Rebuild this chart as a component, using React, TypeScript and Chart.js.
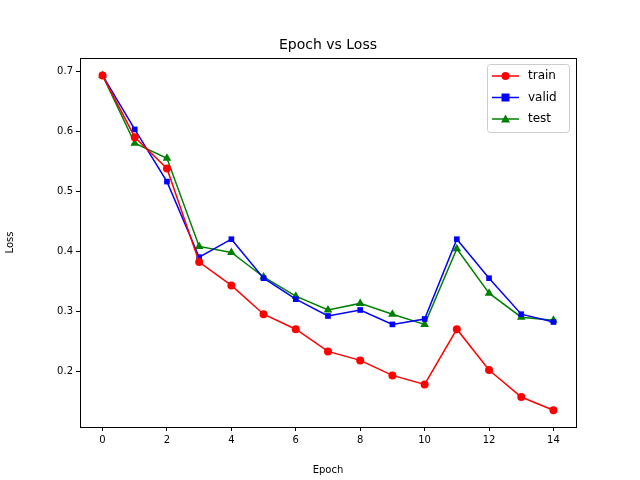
import React, { useEffect, useRef } from "react";
import Chart from "chart.js/auto";

const epochs = [0, 1, 2, 3, 4, 5, 6, 7, 8, 9, 10, 11, 12, 13, 14];
const trainLoss = [0.693, 0.59, 0.538, 0.382, 0.343, 0.295, 0.27, 0.233, 0.218, 0.193, 0.178, 0.27, 0.202, 0.157, 0.135];
const validLoss = [0.693, 0.603, 0.516, 0.39, 0.42, 0.355, 0.32, 0.292, 0.302, 0.278, 0.287, 0.42, 0.355, 0.295, 0.282];
const testLoss = [0.693, 0.58, 0.555, 0.408, 0.398, 0.357, 0.325, 0.302, 0.313, 0.295, 0.278, 0.404, 0.33, 0.29, 0.285];
const xTicks = [0, 2, 4, 6, 8, 10, 12, 14];
const yTicks = [0.2, 0.3, 0.4, 0.5, 0.6, 0.7];

const FONT = "DejaVu Sans";

const series = [
  { label: "train", data: trainLoss, color: "#ff0000", style: "circle" },
  { label: "valid", data: validLoss, color: "#0000ff", style: "rect" },
  { label: "test", data: testLoss, color: "#008000", style: "triangle" },
];

const App: React.FC = () => {
  const canvasRef = useRef<HTMLCanvasElement>(null);

  useEffect(() => {
    if (!canvasRef.current) return;

    // 테두리, 제목, 범례를 직접 그리는 플러그인
    const decor = {
      id: "decor",
      afterDraw(chart: any) {
        const { ctx, chartArea: a } = chart;
        ctx.save();
        ctx.strokeStyle = "#000";
        ctx.lineWidth = 1;
        ctx.strokeRect(a.left + 0.5, a.top + 0.5, a.right - a.left, a.bottom - a.top);
        ctx.fillStyle = "#000";
        ctx.font = `14px ${FONT}`;
        ctx.textAlign = "center";
        ctx.textBaseline = "alphabetic";
        ctx.fillText("Epoch vs Loss", (a.left + a.right) / 2, 49);

        // legend
        ctx.fillStyle = "rgba(255,255,255,0.8)";
        ctx.strokeStyle = "#cccccc";
        ctx.beginPath();
        ctx.roundRect(487.5, 64.5, 82, 68, 3);
        ctx.fill();
        ctx.stroke();
        ctx.font = `12px ${FONT}`;
        ctx.textAlign = "left";
        ctx.textBaseline = "middle";
        series.forEach((s, i) => {
          const y = 76 + i * 21.5;
          ctx.strokeStyle = s.color;
          ctx.lineWidth = 1.5;
          ctx.beginPath();
          ctx.moveTo(492, y);
          ctx.lineTo(519, y);
          ctx.stroke();
          ctx.fillStyle = s.color;
          ctx.beginPath();
          if (s.style === "circle") ctx.arc(505.5, y, 4, 0, Math.PI * 2);
          else if (s.style === "rect") ctx.rect(501.5, y - 4, 8, 8);
          else {
            ctx.moveTo(505.5, y - 4.5);
            ctx.lineTo(510, y + 3.5);
            ctx.lineTo(501, y + 3.5);
            ctx.closePath();
          }
          ctx.fill();
          ctx.fillStyle = "#000";
          ctx.fillText(s.label, 528, y);
        });
        ctx.restore();
      },
    };

    const chart = new Chart(canvasRef.current, {
      type: "line",
      data: {
        datasets: series.map((s) => ({
          label: s.label,
          data: epochs.map((e, i) => ({ x: e, y: s.data[i] })),
          borderColor: s.color,
          backgroundColor: s.color,
          borderWidth: 1.5,
          pointStyle: s.style as any,
          pointRadius: s.style === "triangle" ? 5 : 4,
          pointBorderWidth: 0,
          tension: 0,
        })),
      },
      options: {
        animation: false,
        responsive: false,
        layout: { padding: { top: 58, right: 64, left: 0, bottom: 0 } },
        plugins: { legend: { display: false }, tooltip: { enabled: false }, title: { display: false } },
        scales: {
          x: {
            type: "linear",
            min: -0.7,
            max: 14.7,
            afterBuildTicks: (ax: any) => { ax.ticks = xTicks.map((v) => ({ value: v })); },
            afterFit: (ax: any) => { ax.height = 53; },
            grid: { drawOnChartArea: false, drawTicks: true, tickLength: 4, color: "#000" },
            border: { display: false },
            ticks: { color: "#000", font: { family: FONT, size: 10 }, padding: 3, maxRotation: 0 },
            title: { display: true, text: "Epoch", color: "#000", font: { family: FONT, size: 10 }, padding: { top: 2 } },
          },
          y: {
            min: 0.107,
            max: 0.722,
            afterBuildTicks: (ax: any) => { ax.ticks = yTicks.map((v) => ({ value: v })); },
            afterFit: (ax: any) => { ax.width = 80; },
            grid: { drawOnChartArea: false, drawTicks: true, tickLength: 4, color: "#000" },
            border: { display: false },
            ticks: { color: "#000", font: { family: FONT, size: 10 }, padding: 3, callback: (v: any) => Number(v).toFixed(1) },
            title: { display: true, text: "Loss", color: "#000", font: { family: FONT, size: 10 } },
          },
        },
      },
      plugins: [decor],
    });

    return () => {
      chart.destroy();
    };
  }, []);

  return (
    <div style={{ position: "absolute", left: 0, top: 0 }}>
      <canvas ref={canvasRef} width={640} height={480}></canvas>
    </div>
  );
};

export default App;
